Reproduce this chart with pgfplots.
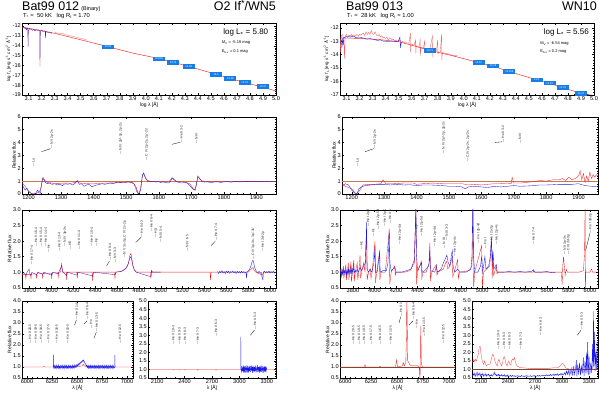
\documentclass[border=0pt]{standalone}
\usepackage{pgfplots}
\pgfplotsset{compat=1.18}
\usepackage{fontspec}
\setmainfont{Liberation Sans}
\definecolor{mred}{RGB}{242,30,30}
\definecolor{mblue}{RGB}{25,25,235}
\definecolor{phot}{RGB}{25,125,230}
\definecolor{unity}{RGB}{200,120,80}
\newcommand{\lf}{\fontsize{3.4}{3.6}\selectfont}
\newcommand{\tf}{\fontsize{5.6}{6}\selectfont}
\newcommand{\lid}[3]{\node[rotate=90,anchor=west,font=\lf,inner sep=0pt,text=black!85] at (axis cs:#1,#2) {---\,#3};}
\pgfplotsset{
  panel/.style={scale only axis, anchor=north west,
    axis line style={line width=0.35pt},
    tick style={line width=0.3pt, black},
    major tick length=2pt, minor tick length=1.1pt,
    tick label style={font=\tf},
    xticklabel style={inner sep=1pt},
    yticklabel style={inner sep=1pt},
    label style={font=\fontsize{5}{5.5}\selectfont},
    xlabel style={inner sep=0.5pt},
    ylabel style={inner sep=0.5pt},
    /pgf/number format/assume math mode=true,
    /pgf/number format/set thousands separator={},
    every axis plot/.append style={line width=0.35pt},
  },
  oned/.style={yticklabel style={/pgf/number format/.cd,fixed,fixed zerofill,precision=1}},
  phots/.style={draw=none, nodes near coords, point meta=explicit symbolic,
    nodes near coords align={center},
    every node near coord/.append style={fill=phot, text=white, font=\fontsize{2.6}{3}\selectfont,
      inner sep=0.4pt, minimum width=12pt, minimum height=4.6pt}},
}
\begin{document}
\begin{tikzpicture}
\path[use as bounding box] (0pt,0pt) rectangle (600pt,394pt);
% ---------- titles ----------
\node[anchor=base west,inner sep=0pt,font=\fontsize{12.5}{13}\selectfont] at (22pt,383.7pt) {Bat99 012\,{\fontsize{5.5}{6}\selectfont(Binary)}};
\node[anchor=base east,inner sep=0pt,font=\fontsize{12.5}{13}\selectfont] at (276pt,383.7pt) {O2 If\raisebox{0.3em}{\fontsize{9}{9}\selectfont *}/WN5};
\node[anchor=base west,inner sep=0pt,font=\fontsize{5.8}{6}\selectfont] at (23pt,376.4pt) {T\textsubscript{*} = ~50 kK~~~log R\textsubscript{t} = 1.70};
\node[anchor=base west,inner sep=0pt,font=\fontsize{12.5}{13}\selectfont] at (346pt,383.7pt) {Bat99 013};
\node[anchor=base east,inner sep=0pt,font=\fontsize{12.5}{13}\selectfont] at (597pt,383.7pt) {WN10};
\node[anchor=base west,inner sep=0pt,font=\fontsize{5.8}{6}\selectfont] at (347pt,376.4pt) {T\textsubscript{*} = ~28 kK~~~log R\textsubscript{t} = 1.00};

% ================= P1 : SED left =================
\begin{axis}[panel, at={(22pt,371pt)}, width=254pt, height=72pt,
  xmin=3.05, xmax=5.0, ymin=-19, ymax=-11.7,
  xtick={3.1,3.2,3.3,3.4,3.5,3.6,3.7,3.8,3.9,4.0,4.1,4.2,4.3,4.4,4.5,4.6,4.7,4.8,4.9,5.0},
  ytick={-19,-18,-17,-16,-15,-14,-13,-12}, minor x tick num=1, minor y tick num=4,
  xticklabel style={/pgf/number format/.cd,fixed,fixed zerofill,precision=1},
  xlabel={log λ [Å]},
  ylabel={log \textit{f}\textsubscript{λ} [erg s\textsuperscript{-1} cm\textsuperscript{-2} Å\textsuperscript{-1}]},
  ylabel style={font=\fontsize{4.4}{4.6}\selectfont}]
\addplot[mred, line width=0.45pt] coordinates {(3.05,-12.14)(3.15,-12.35)(3.3,-12.74)(3.5,-13.4)(3.71,-14.1)(3.9,-14.75)(4.1,-15.3)(4.33,-16.1)(4.54,-16.9)(4.76,-17.75)(4.9,-18.2)(5.0,-18.6)};
\addplot[mred!60] coordinates {(3.30,-12.6)(3.33,-12.8)(3.36,-12.75)(3.40,-12.95)(3.44,-13.05)(3.48,-13.2)(3.52,-13.3)(3.55,-13.45)};
\addplot[mblue!75!mred] coordinates {(3.062,-12.1)(3.07,-12.2)(3.075,-12.3)(3.08,-12.15)(3.085,-12.4)(3.09,-12.2)(3.094,-12.3)(3.097,-14.1)(3.099,-12.5)(3.105,-12.25)(3.11,-12.35)(3.12,-12.3)(3.13,-12.45)(3.14,-12.35)(3.15,-12.5)(3.16,-12.4)(3.17,-12.45)(3.18,-12.4)(3.186,-12.5)(3.188,-16.1)(3.191,-12.6)(3.2,-12.4)(3.21,-12.55)(3.22,-12.5)(3.228,-12.55)(3.23,-13.2)(3.233,-12.6)(3.24,-12.6)(3.25,-12.65)(3.26,-12.62)(3.27,-12.7)(3.28,-12.75)};
\addplot[phots] coordinates {(3.71,-14.13)[13.92] (4.10,-15.33)[13.818] (4.21,-15.72)[13.76] (4.33,-16.14)[13.58] (4.54,-16.92)[13.5] (4.65,-17.31)[13.48] (4.76,-17.76)[13.43] (4.90,-18.16)[13.37]};
\node[anchor=north east,font=\fontsize{8}{9}\selectfont,inner sep=0pt] at (rel axis cs:0.97,0.92) {log L\textsubscript{*} = 5.80};
\node[anchor=west,font=\fontsize{4}{4.5}\selectfont,inner sep=0pt] at (rel axis cs:0.786,0.73) {M\textsubscript{V} = -5.19 mag};
\node[anchor=west,font=\fontsize{4}{4.5}\selectfont,inner sep=0pt] at (rel axis cs:0.786,0.6) {E\textsubscript{b-v} = 0.1 mag};
\end{axis}

% ================= P6 : SED right =================
\begin{axis}[panel, at={(340pt,371pt)}, width=254pt, height=72pt,
  xmin=3.05, xmax=5.0, ymin=-17, ymax=-11.65,
  xtick={3.1,3.2,3.3,3.4,3.5,3.6,3.7,3.8,3.9,4.0,4.1,4.2,4.3,4.4,4.5,4.6,4.7,4.8,4.9,5.0},
  ytick={-17,-16,-15,-14,-13,-12}, minor x tick num=1, minor y tick num=4,
  xticklabel style={/pgf/number format/.cd,fixed,fixed zerofill,precision=1},
  xlabel={log λ [Å]},
  ylabel={log \textit{f}\textsubscript{λ} [erg s\textsuperscript{-1} cm\textsuperscript{-2} Å\textsuperscript{-1}]},
  ylabel style={font=\fontsize{4.4}{4.6}\selectfont}]
\addplot[mred!70] coordinates {(3.05,-12.7)(3.055,-13.8)(3.06,-12.6)(3.07,-12.5)(3.08,-12.9)(3.085,-14.3)(3.09,-12.6)(3.1,-12.5)(3.11,-12.7)(3.12,-12.55)(3.13,-12.6)(3.14,-12.5)(3.15,-12.65)(3.16,-12.55)(3.17,-12.6)(3.18,-12.5)(3.19,-12.6)(3.2,-12.5)(3.21,-12.55)(3.22,-12.45)(3.23,-12.4)(3.24,-12.6)(3.25,-12.3)(3.26,-12.5)(3.27,-12.35)(3.28,-12.5)(3.29,-12.2)(3.3,-12.45)(3.31,-12.5)(3.32,-12.3)(3.33,-12.55)(3.34,-12.6)(3.35,-12.5)(3.36,-12.7)(3.37,-12.6)(3.38,-12.75)(3.39,-12.7)(3.4,-12.8)(3.41,-12.7)(3.42,-12.9)(3.43,-12.75)(3.44,-12.8)(3.45,-12.9)(3.46,-12.85)(3.47,-13.0)(3.48,-12.9)(3.49,-13.0)(3.5,-13.05)(3.51,-12.9)(3.52,-13.1)(3.53,-13.0)(3.54,-13.1)(3.58,-13.15)(3.59,-12.4)(3.592,-13.8)(3.595,-13.2)(3.62,-13.3)(3.63,-12.9)(3.632,-13.9)(3.635,-13.35)(3.66,-13.4)(3.665,-12.8)(3.668,-14.1)(3.67,-13.45)(3.69,-13.5)(3.7,-13.0)(3.702,-13.9)(3.705,-13.55)(3.74,-13.6)(3.76,-12.6)(3.762,-14.2)(3.765,-13.65)(3.79,-13.75)(3.8,-12.9)(3.802,-14.0)(3.805,-13.8)(3.82,-13.8)(3.83,-12.5)(3.832,-14.4)(3.835,-13.85)(3.86,-13.9)(3.9,-14.0)(3.93,-14.1)(3.95,-14.05)};
\addplot[mred, line width=0.45pt] coordinates {(3.05,-12.75)(3.2,-12.8)(3.35,-12.88)(3.5,-13.04)(3.6,-13.3)(3.74,-13.69)(3.9,-14.05)(4.0,-14.3)(4.11,-14.58)(4.225,-14.86)(4.35,-15.26)(4.46,-15.58)(4.56,-15.88)(4.66,-16.14)(4.76,-16.46)(4.9,-16.87)(5.0,-17.05)};
\addplot[mblue] coordinates {(3.06,-12.9)(3.065,-13.5)(3.07,-12.8)(3.075,-13.3)(3.08,-12.75)(3.09,-12.7)(3.1,-12.65)(3.11,-12.7)(3.12,-12.65)(3.13,-12.7)(3.14,-12.6)(3.15,-12.7)(3.16,-12.65)(3.17,-12.75)(3.18,-12.7)(3.2,-12.7)(3.22,-12.75)(3.24,-12.8)(3.26,-12.85)(3.28,-12.8)(3.3,-12.85)(3.32,-12.9)(3.34,-12.95)(3.36,-12.9)(3.38,-13.0)(3.4,-13.0)(3.42,-13.05)(3.44,-13.0)(3.46,-13.0)(3.48,-13.05)(3.5,-12.95)(3.51,-12.7)(3.515,-13.5)(3.52,-13.1)};
\addplot[phots] coordinates {(3.74,-13.69)[13.71] (4.114,-14.58)[13.52] (4.225,-14.84)[13.29] (4.35,-15.26)[13.258] (4.56,-15.88)[13.0] (4.66,-16.12)[12.87] (4.76,-16.46)[12.76] (4.90,-16.87)[12.67]};
\node[anchor=north east,font=\fontsize{8}{9}\selectfont,inner sep=0pt] at (rel axis cs:0.98,0.92) {log L\textsubscript{*} = 5.56};
\node[anchor=west,font=\fontsize{4}{4.5}\selectfont,inner sep=0pt] at (rel axis cs:0.788,0.72) {M\textsubscript{V} = -6.54 mag};
\node[anchor=west,font=\fontsize{4}{4.5}\selectfont,inner sep=0pt] at (rel axis cs:0.788,0.6) {E\textsubscript{b-v} = 0.2 mag};
\end{axis}

% ================= P2 : UV left =================
\begin{axis}[panel, at={(22pt,277.3pt)}, width=254pt, height=77.3pt,
  xmin=1180, xmax=1960, ymin=0, ymax=6,
  xtick={1200,1300,...,1900}, ytick={0,1,...,6}, minor x tick num=4, minor y tick num=4,
  ylabel={Relative flux}]
\addplot[unity] coordinates {(1180,1)(1960,1)};
\addplot[mred] coordinates {(1180,0.9)(1186,0.7)(1192,0.5)(1198,0.3)(1204,0.15)(1210,0.02)(1216,0.0)(1222,0.02)(1228,0.1)(1234,0.2)(1238,0.5)(1242,1.1)(1245,1.3)(1250,1.05)(1258,0.9)(1270,0.85)(1290,0.82)(1310,0.85)(1330,0.83)(1345,0.9)(1350,1.0)(1356,0.85)(1375,0.82)(1395,0.78)(1405,0.8)(1420,0.83)(1440,0.85)(1460,0.87)(1480,0.9)(1500,0.92)(1515,0.9)(1525,0.75)(1532,0.2)(1537,0.0)(1543,0.3)(1549,1.3)(1553,1.65)(1558,1.3)(1565,1.05)(1580,0.97)(1600,0.95)(1620,0.93)(1632,0.95)(1640,1.25)(1647,1.1)(1655,0.97)(1680,0.93)(1695,0.8)(1705,0.45)(1710,0.3)(1715,0.7)(1720,1.4)(1726,1.15)(1735,1.0)(1760,0.97)(1800,0.97)(1850,0.98)(1900,0.98)(1960,0.99)};
\addplot[mblue] coordinates {(1180,0.75)(1185,0.5)(1190,0.3)(1195,0.45)(1200,0.2)(1205,0.1)(1210,0.02)(1216,0.0)(1222,0.05)(1228,0.3)(1232,0.1)(1236,0.05)(1240,0.7)(1244,1.2)(1248,1.1)(1252,0.9)(1258,0.8)(1265,0.85)(1272,0.75)(1280,0.8)(1288,0.7)(1296,0.75)(1304,0.65)(1312,0.8)(1320,0.75)(1328,0.8)(1336,0.7)(1344,0.85)(1350,1.05)(1356,0.75)(1362,0.8)(1370,0.6)(1378,0.7)(1386,0.75)(1394,0.55)(1402,0.65)(1410,0.7)(1418,0.75)(1426,0.8)(1434,0.75)(1442,0.8)(1450,0.85)(1458,0.8)(1466,0.85)(1474,0.9)(1482,0.88)(1490,0.92)(1498,0.9)(1506,0.95)(1514,0.92)(1522,0.85)(1530,0.55)(1536,0.1)(1540,0.0)(1545,0.4)(1550,1.5)(1554,1.6)(1560,1.2)(1566,1.0)(1574,0.95)(1582,0.97)(1590,0.93)(1598,0.96)(1606,0.9)(1614,0.95)(1622,0.88)(1630,0.85)(1636,1.0)(1642,1.25)(1648,1.1)(1654,0.95)(1662,0.9)(1670,0.85)(1678,0.9)(1686,0.85)(1694,0.7)(1700,0.5)(1706,0.35)(1712,0.3)(1716,0.8)(1720,1.35)(1726,1.2)(1732,1.0)(1740,0.92)(1750,0.95)(1760,0.88)(1770,0.93)(1780,0.95)(1790,0.9)(1800,0.94)(1810,0.97)(1820,0.92)(1830,0.95)(1840,0.98)(1850,0.93)(1860,0.97)(1870,0.95)(1880,0.98)(1890,0.94)(1900,0.97)(1910,0.95)(1920,0.98)(1930,0.96)(1940,0.97)(1950,0.95)(1960,0.96)};
\lid{1215}{2.15}{Lα}
\draw[line width=0.3pt] (axis cs:1240,3.28)--(axis cs:1268,3.52);
\lid{1272}{3.5}{N V 2p-2s}
\lid{1483}{3.05}{N IV 2p²-2p, 2p-2s}
\lid{1563}{2.6}{C IV 2p-2s, 2p'-2s'}
\draw[line width=0.3pt] (axis cs:1640,3.85)--(axis cs:1666,4.02);
\lid{1670}{4.0}{He II 3-2}
\lid{1716}{3.9}{N IV}
\end{axis}

% ================= P7 : UV right =================
\begin{axis}[panel, at={(342pt,277.3pt)}, width=256pt, height=77.3pt,
  xmin=1170, xmax=1960, ymin=0, ymax=6,
  xtick={1200,1300,...,1900}, ytick={0,1,...,6}, minor x tick num=4, minor y tick num=4,
  ylabel={Relative flux}]
\addplot[unity] coordinates {(1170,1)(1960,1)};
\addplot[mred] coordinates {(1170,0.8)(1180,0.6)(1190,0.5)(1200,0.4)(1210,0.1)(1216,0.0)(1225,0.3)(1235,0.7)(1250,0.75)(1270,0.75)(1290,0.8)(1297,1.1)(1305,0.8)(1330,0.8)(1360,0.85)(1390,0.85)(1400,0.75)(1420,0.8)(1450,0.85)(1480,0.8)(1510,0.8)(1540,0.8)(1560,0.7)(1580,0.75)(1600,0.7)(1620,0.75)(1640,0.8)(1660,0.8)(1680,0.85)(1692,0.8)(1695,1.3)(1700,0.85)(1720,0.85)(1740,0.9)(1760,0.95)(1780,1.05)(1800,1.0)(1820,1.1)(1840,1.1)(1850,1.2)(1860,1.05)(1870,1.3)(1880,1.1)(1890,1.2)(1900,1.4)(1905,1.8)(1910,1.1)(1915,1.6)(1920,0.9)(1925,1.4)(1930,1.0)(1935,1.7)(1940,1.2)(1945,1.5)(1950,1.3)(1955,1.5)(1960,1.4)};
\addplot[mblue] coordinates {(1170,0.6)(1180,0.8)(1190,0.7)(1200,0.3)(1210,0.05)(1216,0.0)(1222,0.4)(1230,0.55)(1240,0.65)(1260,0.7)(1280,0.75)(1300,0.75)(1320,0.7)(1340,0.75)(1360,0.7)(1380,0.72)(1400,0.65)(1420,0.7)(1440,0.7)(1460,0.68)(1480,0.65)(1500,0.6)(1520,0.6)(1540,0.55)(1550,0.4)(1560,0.55)(1580,0.6)(1600,0.55)(1620,0.5)(1640,0.6)(1660,0.55)(1680,0.6)(1700,0.65)(1720,0.6)(1740,0.62)(1760,0.65)(1780,0.7)(1800,0.7)(1820,0.72)(1840,0.75)(1860,0.75)(1880,0.75)(1900,0.8)(1920,0.65)(1940,0.6)(1960,0.55)};
\lid{1218}{2.15}{Lα}
\draw[line width=0.3pt] (axis cs:1241,3.28)--(axis cs:1268,3.52);
\lid{1272}{3.5}{N V 2p-2s}
\lid{1484}{3.15}{N IV 2p²-2p, 2p-2s}
\lid{1559}{2.5}{C IV 2p-2s, 2p'-2s'}
\draw[line width=0.3pt] (axis cs:1641,4.0)--(axis cs:1664,4.05);
\lid{1667}{4.0}{He II 3-2}
\lid{1719}{3.9}{N IV}
\end{axis}

% ================= P3 : optical left =================
\begin{axis}[panel, oned, at={(22pt,184pt)}, width=254pt, height=77.7pt,
  xmin=3730, xmax=6055, ymin=0.5, ymax=3.0,
  xtick={3800,4000,...,6000}, ytick={0.5,1.0,...,3.0}, minor x tick num=3, minor y tick num=4,
  ylabel={Relative flux}]
\addplot[mred] coordinates {(3730,0.93)(3760,0.93)(3765,0.8)(3770,0.93)(3808,0.93)(3812,0.78)(3816,0.94)(3860,0.94)(3864,0.8)(3868,0.95)(3915,0.95)(3919,0.82)(3923,0.96)(3998,0.97)(4002,0.78)(4006,0.97)(4058,0.98)(4062,0.85)(4066,0.99)(4080,1.0)(4093,1.27)(4100,1.0)(4135,1.0)(4139,0.75)(4143,1.0)(4232,1.0)(4236,0.8)(4240,1.0)(4372,1.0)(4377,0.72)(4382,1.0)(4576,1.0)(4581,0.78)(4586,1.0)(4640,1.02)(4670,1.08)(4690,1.15)(4705,1.3)(4718,1.55)(4727,1.6)(4735,1.45)(4745,1.2)(4760,1.05)(4780,1.0)(4905,1.0)(4910,0.8)(4915,1.05)(4920,1.0)(5451,1.0)(5456,0.75)(5461,1.0)(5800,1.0)(5830,1.1)(5843,1.15)(5856,1.05)(5870,1.0)(5930,0.9)(5940,1.0)(6055,1.0)};
\addplot[mblue!80!mred] coordinates {(3730,0.97)(3750,0.98)(3765,0.9)(3775,0.99)(3795,1.1)(3800,0.97)(3812,0.9)(3820,0.99)(3864,0.92)(3875,1.0)(3919,0.93)(3930,1.0)(4002,0.9)(4010,1.0)(4062,0.95)(4070,1.02)(4093,1.2)(4105,1.0)(4139,0.88)(4145,1.0)(4236,0.9)(4242,1.0)(4377,0.88)(4385,1.0)(4581,0.92)(4590,1.0)(4640,1.03)(4680,1.12)(4700,1.25)(4718,1.45)(4727,1.5)(4740,1.3)(4755,1.1)(4775,1.0)(4910,0.85)(4916,1.05)(4925,1.0)(5000,1.0)};
\addplot[mblue] coordinates {(5520,1.02)(5530,0.96)(5540,1.03)(5550,0.98)(5560,1.05)(5570,0.97)(5580,1.02)(5590,0.95)(5600,1.04)(5610,0.98)(5620,1.03)(5630,0.96)(5640,1.02)(5650,0.99)(5660,1.04)(5670,0.97)(5680,1.02)(5690,0.96)(5700,1.03)(5710,0.98)(5720,1.02)(5730,0.97)(5740,1.03)(5750,0.98)(5760,1.02)(5770,0.97)(5780,1.0)(5786,0.8)(5790,1.0)(5800,1.04)(5810,1.08)(5820,1.15)(5830,1.25)(5838,1.36)(5845,1.38)(5852,1.28)(5860,1.15)(5870,1.06)(5880,1.02)(5890,0.97)(5900,1.03)(5910,0.96)(5920,1.0)(5930,0.78)(5935,0.76)(5940,1.0)(5950,1.03)(5960,0.97)(5970,1.02)(5980,0.98)(5990,1.04)(6000,0.97)(6010,1.02)(6020,0.98)(6030,1.03)(6040,0.97)(6055,1.0)};
\lid{3819}{1.23}{He II 17-4}
\lid{3858}{1.82}{He II 16-4}
\lid{3904}{1.82}{He II 15-4}
\lid{3947}{1.82}{He II 14-4}
\lid{3975}{1.62}{Hε}
\lid{4071}{1.66}{He II 13-4}
\lid{4123}{1.82}{N IV 3p-3s}
\lid{4169}{1.72}{Hδ}
\lid{4251}{1.72}{He II 11-4}
\lid{4368}{1.82}{He II 10-4}
\lid{4413}{1.82}{Hγ}
\draw[line width=0.3pt] (axis cs:4505,1.2)--(axis cs:4530,1.36);
\lid{4535}{1.36}{He II 9-4}
\lid{4581}{1.3}{N V 3-3}
\lid{4672}{1.45}{N V 3s-3p, C IV 2s-2p}
\draw[line width=0.3pt] (axis cs:4770,1.95)--(axis cs:4820,2.12);
\lid{4825}{2.12}{He II 4-3}
\lid{4916}{2.3}{He II 8-4}
\lid{4956}{2.12}{Hβ}
\lid{4999}{1.95}{N III 5-4}
\lid{5242}{1.66}{N IV 6-5}
\draw[line width=0.3pt] (axis cs:5460,1.85)--(axis cs:5500,2.0);
\lid{5505}{2.0}{He II 7-4}
\lid{5846}{1.4}{C IV 3p-3s, 3p'-3s'}
\lid{5937}{1.66}{He I 3d-2p}
\end{axis}

% ================= P8 : optical right =================
\begin{axis}[panel, oned, at={(340pt,184pt)}, width=258pt, height=77.7pt,
  xmin=3680, xmax=6075, ymin=0.5, ymax=3.0,
  xtick={3800,4000,...,6000}, ytick={0.5,1.0,...,3.0}, minor x tick num=3, minor y tick num=4,
  ylabel={Relative flux}]
\addplot[mred] coordinates {(3680,1.0)(3690,1.1)(3695,0.85)(3705,1.05)(3712,1.2)(3716,0.8)(3725,1.05)(3735,1.25)(3739,0.75)(3748,1.0)(3758,1.3)(3762,0.75)(3772,1.0)(3782,1.35)(3786,0.7)(3796,1.0)(3808,1.4)(3812,0.7)(3822,1.0)(3840,1.3)(3845,0.75)(3855,1.0)(3866,1.55)(3872,0.8)(3880,1.0)(3890,1.15)(3900,1.3)(3912,1.0)(3926,2.3)(3932,0.75)(3945,1.0)(3960,1.1)(3968,0.8)(3978,1.0)(4005,2.0)(4010,0.65)(4020,1.0)(4045,1.6)(4050,0.75)(4060,1.0)(4100,1.0)(4136,2.3)(4142,0.6)(4155,1.0)(4188,1.2)(4193,0.9)(4200,1.0)(4280,1.0)(4330,1.05)(4370,1.3)(4384,3.1)(4390,0.6)(4400,1.0)(4435,1.35)(4440,0.8)(4450,1.0)(4505,1.2)(4514,1.95)(4520,0.7)(4530,1.0)(4575,1.25)(4580,0.9)(4590,1.0)(4640,1.1)(4660,1.3)(4670,1.35)(4680,1.1)(4700,1.2)(4722,1.5)(4727,0.85)(4740,1.0)(4772,1.4)(4778,0.8)(4790,1.0)(4880,1.05)(4905,1.2)(4915,3.1)(4921,0.5)(4930,1.0)(4995,1.85)(5002,0.55)(5012,1.0)(5070,1.2)(5087,2.0)(5093,0.8)(5100,1.6)(5106,0.9)(5115,1.0)(5130,1.2)(5137,0.95)(5150,1.0)(5300,1.0)(5470,1.0)(5476,1.05)(5482,1.0)(5700,1.0)(5735,1.0)(5742,0.6)(5748,1.2)(5755,1.5)(5762,1.2)(5770,0.9)(5780,1.1)(5790,1.0)(5900,1.0)(5940,1.05)(5950,1.6)(5955,3.1)(5958,0.5)(5962,1.0)(6000,1.0)(6015,1.1)(6025,1.0)(6075,1.0)};
\addplot[mblue] coordinates {(3680,0.95)(3686,1.05)(3692,0.9)(3698,1.08)(3704,0.93)(3710,1.1)(3716,0.92)(3722,1.05)(3728,0.95)(3734,1.1)(3740,0.9)(3746,1.05)(3752,0.94)(3758,1.12)(3764,0.95)(3770,1.08)(3776,0.96)(3782,1.15)(3788,0.97)(3794,1.1)(3800,0.98)(3808,1.2)(3814,0.98)(3822,1.05)(3830,1.0)(3840,1.1)(3850,1.0)(3866,1.15)(3880,1.05)(3900,1.2)(3915,1.3)(3922,2.0)(3927,2.6)(3932,1.1)(3945,1.0)(3960,1.1)(3975,1.0)(3995,1.3)(4004,1.75)(4010,1.0)(4025,1.0)(4043,1.5)(4048,1.7)(4053,1.0)(4080,1.05)(4110,1.05)(4125,1.3)(4132,2.0)(4137,2.4)(4143,1.3)(4155,1.05)(4190,1.15)(4200,1.0)(4250,1.0)(4300,1.05)(4340,1.1)(4370,1.4)(4380,2.5)(4385,3.1)(4390,1.6)(4400,1.05)(4437,1.3)(4443,1.0)(4480,1.0)(4508,1.3)(4514,1.7)(4520,1.05)(4560,1.0)(4575,1.2)(4585,1.0)(4620,1.1)(4640,1.3)(4660,1.45)(4672,1.55)(4685,1.3)(4700,1.2)(4712,1.5)(4722,1.7)(4730,1.2)(4745,1.0)(4770,1.1)(4800,1.0)(4850,1.0)(4895,1.1)(4905,1.5)(4912,3.1)(4920,1.5)(4930,1.0)(4960,1.0)(4985,1.2)(4995,1.5)(5005,1.0)(5025,1.5)(5035,1.1)(5060,1.2)(5075,1.5)(5085,2.1)(5095,1.3)(5100,1.7)(5108,1.1)(5130,1.25)(5140,1.0)(5200,1.0)(5250,1.02)(5300,1.0)(5350,1.02)(5400,1.0)(5460,1.03)(5476,1.08)(5490,1.0)(5550,1.0)(5600,1.02)(5650,0.98)(5680,1.0)};
\lid{3881}{1.71}{Hζ}
\lid{3943}{2.46}{He I 2p-8d}
\lid{3989}{2.14}{Hε}
\lid{4036}{2.36}{He I 2p-5d}
\lid{4098}{2.45}{He I 3p-2s}
\lid{4144}{2.55}{He II 12-4}
\lid{4237}{1.87}{He I 2p-4d}
\lid{4392}{2.25}{Hγ}
\lid{4438}{2.14}{He I 2p-5d}
\lid{4562}{1.82}{He I 2p-4d}
\lid{4645}{1.77}{N III}
\lid{4670}{2.0}{N III 3-3}
\lid{4748}{1.5}{He I 2p-4s}
\lid{4965}{1.93}{He I 2p-4d}
\lid{5027}{1.77}{He I}
\lid{5089}{1.87}{He I 2s-3p}
\lid{5135}{1.87}{He I 2p-4s}
\lid{5476}{1.87}{He II 7-4}
\lid{5770}{1.55}{N II 3p-3s}
\lid{5800}{1.55}{C III 3d-3p}
\draw[line width=0.3pt] (axis cs:5960,1.7)--(axis cs:6000,2.25);
\lid{6005}{2.25}{He I 3d-2p}
\end{axis}

% ================= P4 : red left =================
\begin{axis}[panel, oned, at={(22pt,93pt)}, width=111pt, height=77pt,
  xmin=5950, xmax=7060, ymin=0.5, ymax=4.0,
  xtick={6000,6250,...,7000}, ytick={0.5,1.0,...,4.0}, minor x tick num=4, minor y tick num=4,
  xlabel={λ [Å]}, ylabel={Relative flux}]
\addplot[mred] coordinates {(5950,1.0)(6160,1.0)(6170,1.03)(6180,1.0)(6490,1.0)(6550,1.05)(6562,1.12)(6575,1.05)(6600,1.0)(7060,1.0)};
\addplot[mblue] coordinates {(6263,1.0)(6264,1.55)(6266,1.0)(6271,0.93)(6276,1.07)(6281,0.96)(6286,1.05)(6291,0.92)(6296,1.08)(6301,0.97)(6306,1.04)(6311,0.94)(6316,1.09)(6321,0.95)(6326,1.03)(6331,0.92)(6336,1.07)(6341,0.98)(6346,1.05)(6351,0.93)(6356,1.08)(6361,0.96)(6366,1.04)(6371,0.91)(6376,1.07)(6381,0.97)(6386,1.06)(6391,0.94)(6396,1.08)(6401,0.95)(6406,1.03)(6411,0.93)(6416,1.08)(6421,0.97)(6426,1.05)(6431,0.94)(6436,1.07)(6441,0.96)(6446,1.04)(6451,0.93)(6456,1.08)(6461,0.97)(6466,1.06)(6471,0.95)(6476,1.09)(6481,0.98)(6486,1.07)(6491,0.99)(6496,1.1)(6501,1.02)(6506,1.12)(6511,1.06)(6516,1.15)(6521,1.1)(6526,1.18)(6531,1.14)(6536,1.22)(6541,1.18)(6546,1.26)(6551,1.23)(6556,1.3)(6561,1.27)(6566,1.32)(6571,1.22)(6576,1.24)(6581,1.14)(6586,1.15)(6591,1.06)(6596,1.09)(6601,0.98)(6606,1.06)(6611,0.95)(6616,1.07)(6621,0.94)(6626,1.05)(6631,0.96)(6636,1.08)(6641,0.93)(6646,1.05)(6651,0.97)(6656,1.07)(6661,0.94)(6666,1.04)(6671,0.95)(6676,1.08)(6681,0.96)(6686,1.05)(6691,0.93)(6696,1.07)(6701,0.97)(6706,1.04)(6711,0.94)(6716,1.08)(6721,0.95)(6726,1.06)(6731,0.93)(6736,1.07)(6741,0.97)(6746,1.05)(6751,0.94)(6756,1.08)(6761,0.96)(6766,1.04)(6771,0.92)(6776,1.07)(6781,0.97)(6786,1.05)(6791,0.94)(6796,1.08)(6801,0.95)(6806,1.04)(6811,0.93)(6816,1.07)(6821,0.96)(6826,1.05)(6831,0.94)(6836,1.08)(6841,0.97)(6846,1.04)(6851,0.93)(6856,1.07)(6861,0.96)(6866,1.05)(6871,0.95)(6878,1.0)(6879,1.55)(6881,1.0)};
\lid{6030}{2.08}{He II 20-5}
\lid{6087}{2.08}{He II 19-5}
\lid{6140}{2.08}{He II 18-5}
\lid{6213}{2.08}{He II 17-5}
\lid{6297}{2.08}{He II 16-5}
\lid{6407}{2.08}{He II 15-5}
\draw[line width=0.3pt] (axis cs:6475,2.9)--(axis cs:6494,3.14);
\lid{6497}{3.14}{He II 14-5}
\draw[line width=0.3pt] (axis cs:6570,2.95)--(axis cs:6600,3.1);
\lid{6603}{3.14}{He II 6-4}
\lid{6640}{2.75}{He}
\draw[line width=0.3pt] (axis cs:6670,2.3)--(axis cs:6694,2.6);
\lid{6697}{2.6}{He II 13-5}
\lid{6930}{2.08}{He II 12-5}
\end{axis}

% ================= P5 : near-UV left =================
\begin{axis}[panel, oned, at={(148pt,93pt)}, width=128pt, height=77pt,
  xmin=2000, xmax=3400, ymin=0.5, ymax=5.0,
  xtick={2100,2400,...,3300}, ytick={0.5,1.0,...,5.0}, minor x tick num=2, minor y tick num=4,
  xlabel={λ [Å]}]
\addplot[mred] coordinates {(2000,1.0)(2270,1.0)(2277,0.97)(2284,1.0)(2336,1.0)(2343,0.97)(2350,1.0)(2398,1.0)(2405,0.96)(2412,1.0)(2537,1.0)(2544,0.95)(2551,1.0)(2737,1.0)(2744,0.95)(2751,1.0)(3400,1.0)};
\addplot[mblue] coordinates {(3014,1.0)(3015,2.9)(3017,1.0)(3022,0.85)(3027,1.2)(3032,0.9)(3037,1.15)(3042,0.8)(3047,1.25)(3052,0.9)(3057,1.1)(3062,0.78)(3067,1.2)(3072,0.95)(3077,1.15)(3082,0.82)(3087,1.22)(3092,0.9)(3097,1.1)(3102,0.8)(3107,1.18)(3112,0.92)(3117,1.2)(3122,0.85)(3127,1.12)(3132,0.9)(3137,1.25)(3142,0.8)(3147,1.1)(3152,0.92)(3157,1.2)(3162,0.85)(3167,1.15)(3172,0.9)(3177,1.22)(3182,0.82)(3187,1.1)(3192,0.95)(3197,1.25)(3202,0.85)(3207,1.15)(3212,0.88)(3217,1.2)(3222,0.8)(3227,1.12)(3232,0.92)(3237,1.22)(3242,0.85)(3247,1.1)(3252,0.9)(3257,1.18)(3262,0.82)(3267,1.15)(3272,0.92)(3277,1.2)(3282,0.85)(3287,1.12)(3292,0.9)(3297,1.1)(3299,1.0)};
\lid{2277}{2.43}{He II 10-3}
\lid{2343}{2.43}{He II 9-3}
\lid{2405}{2.43}{He II 8-3}
\lid{2544}{2.43}{He II 7-3}
\lid{2744}{2.91}{He II 6-3}
\draw[line width=0.3pt] (axis cs:3120,3.0)--(axis cs:3165,3.3);
\lid{3171}{3.3}{He II 5-3}
\end{axis}

% ================= P9 : red right =================
\begin{axis}[panel, oned, at={(340pt,93pt)}, width=115pt, height=77pt,
  xmin=5950, xmax=7060, ymin=0.5, ymax=4.0,
  xtick={6000,6250,...,7000}, ytick={0.5,1.0,...,4.0}, minor x tick num=4, minor y tick num=4,
  xlabel={λ [Å]}, ylabel={Relative flux}]
\addplot[unity!60!black] coordinates {(5950,1)(7060,1)};
\addplot[mred] coordinates {(5950,1.0)(6180,1.0)(6191,1.1)(6200,1.0)(6330,1.0)(6336,1.04)(6342,1.0)(6485,1.0)(6497,1.32)(6505,1.0)(6550,1.05)(6561,1.2)(6570,1.05)(6585,1.2)(6592,2.5)(6595,4.5)(6599,3.0)(6603,1.3)(6612,1.2)(6625,1.1)(6640,1.05)(6700,1.05)(6715,1.0)(6722,0.4)(6726,1.6)(6730,2.85)(6735,1.2)(6745,1.0)(7060,1.0)};
\lid{6078}{2.0}{He II 20-5}
\lid{6133}{2.0}{He II 19-5}
\lid{6182}{2.0}{He II 18-5}
\lid{6249}{2.0}{He II 17-5}
\lid{6336}{2.0}{He II 16-5}
\lid{6439}{2.0}{He II 15-5}
\draw[line width=0.3pt] (axis cs:6520,3.0)--(axis cs:6536,3.29);
\lid{6539}{3.29}{He II 14-5}
\draw[line width=0.3pt] (axis cs:6615,2.9)--(axis cs:6655,3.1);
\lid{6658}{3.14}{He II 6-4}
\lid{6690}{2.75}{He}
\lid{6761}{2.39}{He II 13-5}
\lid{6947}{2.08}{He II 12-5}
\end{axis}

% ================= P10 : near-UV right =================
\begin{axis}[panel, oned, at={(472pt,93pt)}, width=126pt, height=77pt,
  xmin=2000, xmax=3400, ymin=0.5, ymax=5.0,
  xtick={2100,2400,...,3300}, ytick={0.5,1.0,...,5.0}, minor x tick num=2, minor y tick num=4,
  xlabel={λ [Å]}]
\addplot[unity!60!black] coordinates {(2000,1)(3400,1)};
\addplot[mred!80] coordinates {(2000,1.5)(2010,1.4)(2020,1.6)(2030,1.45)(2040,1.6)(2050,1.5)(2060,1.7)(2070,1.9)(2080,2.3)(2090,2.35)(2100,1.9)(2110,1.6)(2120,1.4)(2130,1.3)(2140,1.5)(2150,1.3)(2160,1.2)(2170,1.25)(2180,1.3)(2200,1.3)(2210,1.5)(2220,1.7)(2230,1.9)(2240,1.8)(2250,1.6)(2260,1.4)(2270,1.3)(2280,1.2)(2290,1.5)(2300,1.6)(2310,1.4)(2320,1.3)(2330,1.2)(2340,1.4)(2350,1.7)(2360,1.75)(2370,1.5)(2380,1.3)(2390,1.2)(2400,1.4)(2410,1.5)(2420,1.3)(2430,1.25)(2440,1.5)(2450,1.6)(2460,1.55)(2470,1.7)(2480,1.5)(2490,1.3)(2500,1.2)(2520,1.15)(2540,1.1)(2560,1.1)(2600,1.08)(2650,1.05)(2700,1.05)(2750,1.05)(2800,1.05)(2850,1.05)(2900,1.1)(2950,1.1)(2980,1.2)(3000,1.35)(3020,1.3)(3040,1.1)(3060,1.05)(3100,1.0)(3200,1.0)(3400,1.0)};
\addplot[mblue] coordinates {(2000,0.7)(2008,0.6)(2016,0.75)(2024,0.65)(2032,0.8)(2040,0.6)(2048,0.7)(2056,0.85)(2064,0.62)(2072,0.75)(2080,0.68)(2088,0.8)(2096,0.6)(2104,0.72)(2112,0.66)(2120,0.78)(2128,0.6)(2136,0.7)(2144,0.65)(2152,0.75)(2160,0.6)(2168,0.7)(2176,0.66)(2184,0.73)(2192,0.6)(2200,0.68)(2208,0.62)(2216,0.7)(2224,0.6)(2232,0.66)(2240,0.72)(2248,0.85)(2256,0.68)(2264,0.75)(2272,0.62)(2280,0.7)(2288,0.64)(2296,0.72)(2304,0.6)(2312,0.68)(2320,0.63)(2328,0.7)(2336,0.6)(2344,0.66)(2352,0.62)(2360,0.7)(2368,0.58)(2376,0.65)(2384,0.6)(2392,0.68)(2400,0.57)(2410,0.64)(2420,0.6)(2430,0.66)(2440,0.58)(2450,0.65)(2460,0.6)(2470,0.64)(2480,0.57)(2490,0.63)(2500,0.6)(2510,0.65)(2520,0.57)(2530,0.62)(2540,0.58)(2550,0.65)(2560,0.6)(2570,0.62)(2580,0.56)(2590,0.63)(2600,0.6)(2610,0.65)(2620,0.58)(2630,0.62)(2640,0.6)(2650,0.64)(2660,0.57)(2670,0.62)(2680,0.6)(2690,0.66)(2700,0.58)(2710,0.63)(2720,0.6)(2730,0.65)(2740,0.6)(2750,0.66)(2760,0.6)(2770,0.64)(2780,0.62)(2790,0.68)(2800,0.62)(2810,0.66)(2820,0.63)(2830,0.7)(2840,0.62)(2850,0.68)(2860,0.64)(2870,0.72)(2880,0.63)(2890,0.7)(2900,0.65)(2910,0.73)(2920,0.64)(2930,0.72)(2940,0.66)(2950,0.75)(2960,0.65)(2970,0.72)(2980,0.68)(2990,0.78)(3000,0.66)(3010,0.75)(3020,0.7)(3030,0.82)(3040,0.68)(3050,0.9)(3060,0.7)(3070,0.95)(3080,0.65)(3090,1.0)(3100,0.7)(3110,1.1)(3120,0.62)(3130,1.2)(3140,0.7)(3150,1.0)(3160,1.55)(3165,0.6)(3175,1.3)(3185,0.7)(3195,1.4)(3205,0.65)(3215,1.2)(3225,0.75)(3237,1.7)(3245,0.6)(3255,1.5)(3265,0.8)(3272,2.0)(3278,0.7)(3285,2.6)(3292,0.65)(3300,1.8)(3310,0.7)(3320,1.4)(3330,0.8)(3340,2.5)(3345,1.0)(3350,4.4)(3355,1.2)(3362,3.2)(3368,0.9)(3375,2.0)(3382,1.0)(3390,2.6)(3396,1.1)};
\lid{2292}{2.14}{He II 10-3}
\lid{2356}{2.14}{He II 9-3}
\lid{2415}{2.14}{He II 8-3}
\lid{2541}{2.14}{He II 7-3}
\lid{2763}{3.0}{He II 6-3}
\draw[line width=0.3pt] (axis cs:3170,3.0)--(axis cs:3212,3.3);
\lid{3219}{3.3}{He II 5-3}
\end{axis}
\end{tikzpicture}
\end{document}
